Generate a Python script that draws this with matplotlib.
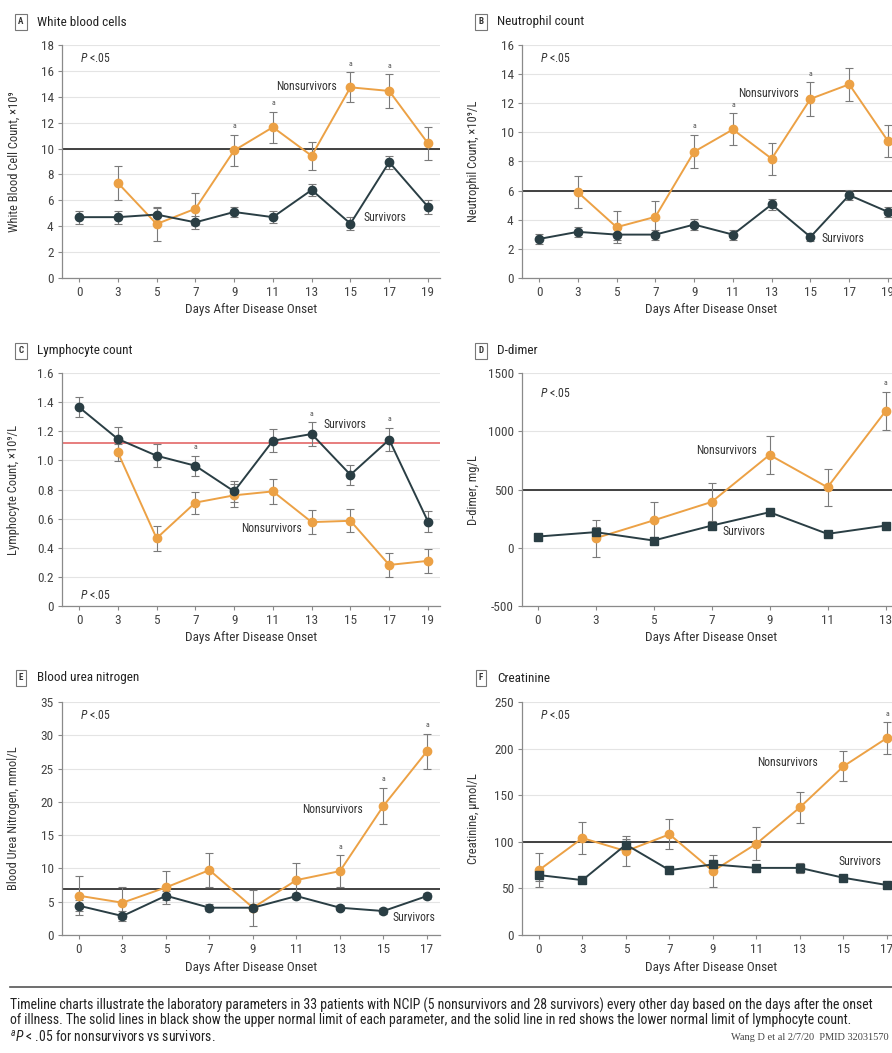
import numpy as np
import matplotlib
matplotlib.use('Agg')
import matplotlib.pyplot as plt
from matplotlib import font_manager

nan = np.nan

DAYS = ['0', '3', '5', '7', '9', '11', '13', '15', '17', '19']

# A  White blood cells
A_SURV = [4.7, 4.7, 4.9, 4.3, 5.1, 4.7, 6.8, 4.2, 8.95, 5.5]
A_SURV_ERR = [0.5, 0.5, 0.5, 0.5, 0.4, 0.45, 0.5, 0.5, 0.5, 0.55]
A_NON = [nan, 7.35, 4.17, 5.35, 9.85, 11.65, 9.44, 14.73, 14.45, 10.4]
A_NON_ERR = [nan, 1.3, 1.3, 1.25, 1.2, 1.2, 1.1, 1.15, 1.3, 1.25]
A_SIG = ['9', '11', '15', '17']

# B  Neutrophil count
B_SURV = [2.68, 3.17, 2.98, 2.98, 3.67, 2.98, 5.05, 2.82, 5.69, 4.54]
B_SURV_ERR = [0.35, 0.35, 0.4, 0.35, 0.35, 0.35, 0.4, 0.3, 0.35, 0.35]
B_NON = [nan, 5.89, 3.49, 4.2, 8.67, 10.2, 8.19, 12.3, 13.3, 9.4]
B_NON_ERR = [nan, 1.1, 1.1, 1.1, 1.15, 1.1, 1.1, 1.15, 1.15, 1.1]
B_SIG = ['9', '11', '15']

# C  Lymphocyte count
C_SURV = [1.365, 1.147, 1.032, 0.963, 0.787, 1.135, 1.181, 0.901, 1.142, 0.58]
C_SURV_ERR = [0.07, 0.08, 0.08, 0.07, 0.07, 0.08, 0.08, 0.07, 0.08, 0.07]
C_NON = [nan, 1.055, 0.465, 0.71, 0.76, 0.787, 0.576, 0.585, 0.282, 0.31]
C_NON_ERR = [nan, 0.06, 0.085, 0.075, 0.08, 0.085, 0.085, 0.08, 0.085, 0.08]
C_SIG = ['7', '13', '17']

# D  D-dimer
D_SURV = [96, 134, 62, 190, 305, 119, 190]
D_SURV_ERR = [15, 40, 20, 20, 20, 20, 15]
D_NON = [nan, 82, 235, 393, 797, 519, 1172]
D_NON_ERR = [nan, 160, 158, 165, 163, 160, 165]
D_SIG = ['13']

# E  Blood urea nitrogen
E_SURV = [4.4, 2.85, 5.9, 4.1, 4.1, 5.85, 4.1, 3.6, 5.85]
E_SURV_ERR = [0.8, 0.8, 0.7, 0.5, 0.5, 0.5, 0.4, 0.4, 0.5]
E_NON = [5.9, 4.85, 7.15, 9.75, 4.1, 8.25, 9.6, 19.4, 27.6]
E_NON_ERR = [2.9, 2.4, 2.5, 2.5, 2.7, 2.5, 2.4, 2.7, 2.6]
E_SIG = ['13', '15', '17']

# F  Creatinine
F_SURV = [64.3, 58.9, 97, 69.6, 75.7, 72, 72, 61.4, 53.6]
F_SURV_ERR = [6, 3, 6, 4, 5, 4, 5, 3, 3]
F_NON = [69.6, 104, 90, 108, 68.6, 98, 137, 181, 211.4]
F_NON_ERR = [18, 17, 16.5, 16, 17, 17.5, 16.5, 16, 17]
F_SIG = ['17']

LIMITS = {'A': 10, 'B': 6, 'C': 1.12, 'D': 500, 'E': 6.9, 'F': 100}

CAPTION = [
    'Timeline charts illustrate the laboratory parameters in 33 patients with NCIP '
    '(5 nonsurvivors and 28 survivors) every other day based on the days after the onset',
    'of illness. The solid lines in black show the upper normal limit of each parameter, '
    'and the solid line in red shows the lower normal limit of lymphocyte count.',
    '$^{a}$$P$ < .05 for nonsurvivors vs survivors.',
]

ORANGE = '#ECA145'
DARK = '#2A3E44'
ERR = '#7a7a7a'
TXT = '#333333'

# pick a narrow sans if one is installed
installed = {f.name for f in font_manager.fontManager.ttflist}
BASE = 'Liberation Sans'
for cand in ['Liberation Sans Narrow', 'DejaVu Sans Condensed', 'Roboto Condensed',
             'Open Sans Condensed', 'Noto Sans Condensed']:
    if cand in installed:
        BASE = cand
        break
NARROW = BASE != 'Liberation Sans'
SCALE = 1.0 if NARROW else 0.92

plt.rcParams['font.family'] = [BASE, 'DejaVu Sans']
plt.rcParams['mathtext.fontset'] = 'custom'
plt.rcParams['mathtext.rm'] = BASE
plt.rcParams['mathtext.it'] = BASE + ':italic'
plt.rcParams['axes.unicode_minus'] = False

W, H = 892, 1053
fig = plt.figure(figsize=(W / 100, H / 100), dpi=100)


def px_axes(left, top, right, bottom):
    return fig.add_axes([left / W, 1 - bottom / H, (right - left) / W, (bottom - top) / H])


def panel_title(x, y, letter, text):
    fig.text(x / W, 1 - y / H, letter, ha='center', va='center', fontsize=6.5,
             fontweight='bold', color=TXT,
             bbox=dict(boxstyle='square,pad=0.35', fc='white', ec='#777777', lw=0.8))
    fig.text((x + 16) / W, 1 - y / H, text, ha='left', va='center', fontsize=9.5 * SCALE,
             color='#222222')


def draw_panel(ax, n, surv, surv_err, non, non_err, limit, yticks, ylabel, xlim,
               sig, sig_on, non_pos, surv_pos, p_pos, sq=False, limit_color='#333333',
               ytick_labels=None):
    xs = np.arange(n)
    ax.axhline(limit, color=limit_color, lw=1.3, zorder=1.5)
    ax.errorbar(xs, non, yerr=non_err, color=ORANGE, ecolor=ERR, elinewidth=0.8,
                capsize=3, capthick=0.8, marker='o', ms=6, lw=1.4, zorder=3)
    ax.errorbar(xs, surv, yerr=surv_err, color=DARK, ecolor=ERR, elinewidth=0.8,
                capsize=3, capthick=0.8, marker='s' if sq else 'o', ms=5.5 if sq else 6,
                lw=1.4, zorder=3)
    top_vals = np.array(non if sig_on == 'non' else surv)
    top_errs = np.array(non_err if sig_on == 'non' else surv_err)
    for d in sig:
        i = DAYS.index(d)
        ax.annotate('a', (i, top_vals[i] + top_errs[i]), xytext=(0, 4), textcoords='offset points',
                    ha='center', va='bottom', fontsize=5.5, color='#555555')
    ax.text(non_pos[0], non_pos[1], 'Nonsurvivors', ha='center', va='center',
            fontsize=8.5 * SCALE, color=TXT)
    ax.text(surv_pos[0], surv_pos[1], 'Survivors', ha='center', va='center',
            fontsize=8.5 * SCALE, color=TXT)
    ax.text(0.048, p_pos, '$P$ <.05', transform=ax.transAxes, ha='left', va='center',
            fontsize=8.5 * SCALE, color=TXT)

    ax.set_xlim(*xlim)
    ax.set_ylim(yticks[0], yticks[-1])
    ax.set_xticks(xs)
    ax.set_xticklabels(DAYS[:n])
    ax.set_yticks(yticks)
    if ytick_labels:
        ax.set_yticklabels(ytick_labels)
    ax.grid(axis='y', color='#e4e4e4', lw=0.8, zorder=0)
    ax.set_axisbelow(True)
    for s in ['top', 'right']:
        ax.spines[s].set_visible(False)
    for s in ['left', 'bottom']:
        ax.spines[s].set_color('#8a8a8a')
        ax.spines[s].set_linewidth(0.9)
    ax.tick_params(axis='both', length=3, width=0.8, color='#8a8a8a', labelsize=9.5 * SCALE,
                   labelcolor='#444444', pad=3)
    ax.set_xlabel('Days After Disease Onset', fontsize=9.5 * SCALE, color=TXT, labelpad=3)
    ax.set_ylabel(ylabel, fontsize=9 * SCALE, color=TXT)
    ax.yaxis.set_label_coords(-0.11, 0.5)


LX = (62, 440)
RX = (522, 900)
ROWS = [(45, 278), (373, 606), (702, 935)]

axA = px_axes(LX[0], ROWS[0][0], LX[1], ROWS[0][1])
draw_panel(axA, 10, A_SURV, A_SURV_ERR, A_NON, A_NON_ERR, LIMITS['A'], np.arange(0, 19, 2),
           'White Blood Cell Count, ×10⁹', (-0.44, 9.31), A_SIG, 'non',
           (5.86, 14.8), (7.9, 4.7), 0.94)
panel_title(21, 22, 'A', 'White blood cells')

axB = px_axes(RX[0], ROWS[0][0], RX[1], ROWS[0][1])
draw_panel(axB, 10, B_SURV, B_SURV_ERR, B_NON, B_NON_ERR, LIMITS['B'], np.arange(0, 17, 2),
           'Neutrophil Count, ×10⁹/L', (-0.44, 9.31), B_SIG, 'non',
           (5.92, 12.7), (7.84, 2.7), 0.94)
panel_title(481, 22, 'B', 'Neutrophil count')

axC = px_axes(LX[0], ROWS[1][0], LX[1], ROWS[1][1])
draw_panel(axC, 10, C_SURV, C_SURV_ERR, C_NON, C_NON_ERR, LIMITS['C'],
           [0, 0.2, 0.4, 0.6, 0.8, 1.0, 1.2, 1.4, 1.6],
           'Lymphocyte Count, ×10⁹/L', (-0.44, 9.31), C_SIG, 'surv',
           (4.96, 0.535), (6.85, 1.245), 0.047, limit_color='#E57373',
           ytick_labels=['0', '0.2', '0.4', '0.6', '0.8', '1.0', '1.2', '1.4', '1.6'])
panel_title(21, 351, 'C', 'Lymphocyte count')

axD = px_axes(RX[0], ROWS[1][0], RX[1], ROWS[1][1])
draw_panel(axD, 7, D_SURV, D_SURV_ERR, D_NON, D_NON_ERR, LIMITS['D'], [-500, 0, 500, 1000, 1500],
           'D-dimer, mg/L', (-0.27, 6.25), D_SIG, 'non',
           (3.26, 832), (3.56, 139), 0.91, sq=True)
panel_title(481, 351, 'D', 'D-dimer')

axE = px_axes(LX[0], ROWS[2][0], LX[1], ROWS[2][1])
draw_panel(axE, 9, E_SURV, E_SURV_ERR, E_NON, E_NON_ERR, LIMITS['E'], np.arange(0, 36, 5),
           'Blood Urea Nitrogen, mmol/L', (-0.39, 8.3), E_SIG, 'non',
           (5.84, 18.85), (7.7, 2.6), 0.94)
panel_title(21, 678, 'E', 'Blood urea nitrogen')

axF = px_axes(RX[0], ROWS[2][0], RX[1], ROWS[2][1])
draw_panel(axF, 9, F_SURV, F_SURV_ERR, F_NON, F_NON_ERR, LIMITS['F'], np.arange(0, 251, 50),
           'Creatinine, μmol/L', (-0.39, 8.3), F_SIG, 'non',
           (5.72, 185), (7.37, 78.6), 0.94, sq=True)
panel_title(481, 678, 'F', 'Creatinine')

# caption
fig.add_artist(plt.Line2D([10 / W, 1], [1 - 987 / H] * 2, color='#555555', lw=1.2))
cap_texts = []
for text, y in zip(CAPTION, [1005, 1020, 1037]):
    cap_texts.append(fig.text(10 / W, 1 - y / H, text, ha='left', va='center',
                              fontsize=8.5, color='#222222'))
# size the caption so the first line ends where the reference's does
fig.canvas.draw()
width = cap_texts[0].get_window_extent().width
size = min(10.5, 8.5 * 865 / width)
for t in cap_texts:
    t.set_fontsize(size)
fig.text(889 / W, 1 - 1038 / H, 'Wang D et al 2/7/20  PMID 32031570',
         ha='right', va='center', fontsize=7.5, color='#444444', family='Liberation Serif')

fig.savefig('out.png', dpi=100)
